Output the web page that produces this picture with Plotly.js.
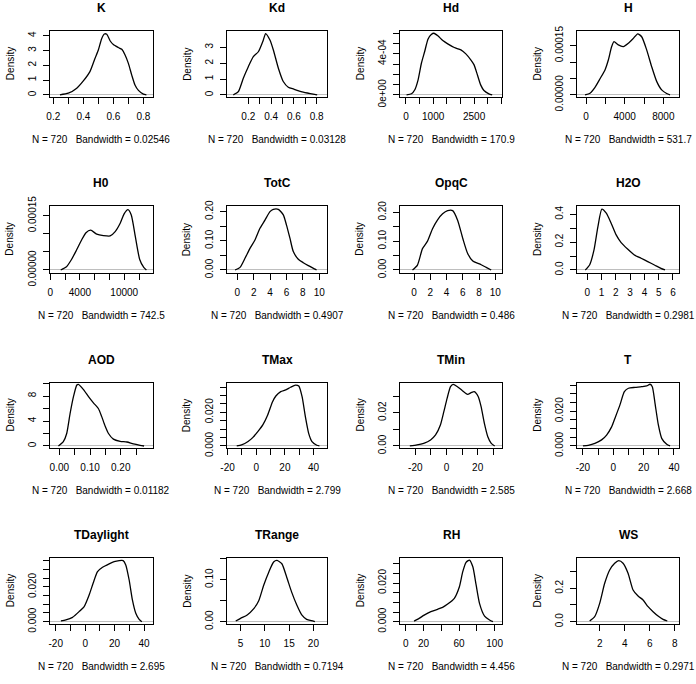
<!DOCTYPE html>
<html><head><meta charset="utf-8">
<script src="https://cdn.plot.ly/plotly-3.0.1.min.js"></script>
<style>html,body{margin:0;padding:0;background:#fff}#chart{width:696px;height:684px}</style>
</head><body><div id="chart"></div>
<script>
// ---------------- DATA ----------------
const panelNames = ["K","Kd","Hd","H","H0","TotC","OpqC","H2O","AOD","TMax","TMin","T","TDaylight","TRange","RH","WS"];
const sampleSize = 720;
const bandwidths = ["0.02546","0.03128","170.9","531.7","742.5","0.4907","0.486","0.2981","0.01182","2.799","2.585","2.668","2.695","0.7194","4.456","0.2971"];

const K_x = [0.244,0.3,0.356,0.4,0.444,0.478,0.5,0.522,0.54,0.556,0.578,0.6,0.633,0.656,0.678,0.7,0.722,0.744,0.767,0.8,0.82];
const K_y = [0,0.11,0.45,0.94,1.57,2.47,3.03,3.8,4.12,4.1,3.66,3.4,3.2,3.08,2.7,2.13,1.35,0.67,0.3,0.05,0];
const Kd_x = [0.068,0.112,0.156,0.2,0.244,0.288,0.332,0.352,0.39,0.42,0.464,0.507,0.551,0.6,0.673,0.746,0.805];
const Kd_y = [0,0.2,1.05,1.78,2.41,2.72,3.46,3.87,3.46,2.83,1.68,0.84,0.48,0.36,0.19,0.08,0];
const Hd_x = [24,205,326,447,568,688,809,930,1027,1171,1353,1534,1775,2017,2198,2379,2500,2621,2741,2862,3043,3164];
const Hd_y = [0,0.1e-4,0.49e-4,1.46e-4,3.08e-4,4.22e-4,5.42e-4,5.88e-4,6.0e-4,5.75e-4,5.29e-4,4.97e-4,4.61e-4,4.38e-4,3.99e-4,3.41e-4,2.92e-4,1.95e-4,0.97e-4,0.42e-4,0.1e-4,0];
const H_x = [-100,414,931,1448,1966,2310,2655,2897,3345,3862,4379,4897,5345,5759,6276,6793,7310,7828,8345,8690];
const H_y = [0,0.5e-5,2.3e-5,4.9e-5,7.6e-5,10.6e-5,14.7e-5,16.2e-5,15.2e-5,14.7e-5,15.7e-5,17.2e-5,18.6e-5,17.7e-5,13.7e-5,8.6e-5,4.1e-5,1.5e-5,0.4e-5,0];
const H0_x = [1400,2180,2860,3540,4230,4820,5450,6270,7180,8090,8770,9450,10000,10500,10950,11500,12090,12640,13000];
const H0_y = [0,0.9e-5,2.9e-5,5.5e-5,8.3e-5,10.3e-5,11.0e-5,9.9e-5,9.5e-5,9.4e-5,10.6e-5,12.9e-5,15.6e-5,16.7e-5,15.2e-5,9.2e-5,2.9e-5,0.7e-5,0];
const TotC_x = [-0.28,0.33,0.93,1.54,2.15,2.76,3.37,3.98,4.39,5.0,5.61,6.0,6.42,6.83,7.44,8.05,8.66,9.47,9.67];
const TotC_y = [0,0.009,0.04,0.074,0.103,0.143,0.171,0.2,0.208,0.208,0.189,0.154,0.109,0.063,0.037,0.025,0.015,0.003,0];
const OpqC_x = [-0.2,0.41,1.03,1.65,2.27,2.89,3.51,4.13,4.75,5.37,6.0,6.6,7.23,8.05,8.88,9.5];
const OpqC_y = [0,0.017,0.074,0.1,0.143,0.174,0.195,0.206,0.206,0.172,0.109,0.057,0.031,0.021,0.009,0];
const H2O_x = [-0.14,0.16,0.47,0.74,1.02,1.33,1.67,2.02,2.37,2.84,3.3,3.77,4.23,4.7,5.16,5.44];
const H2O_y = [0,0.036,0.144,0.31,0.437,0.408,0.336,0.252,0.197,0.149,0.108,0.084,0.06,0.036,0.012,0];
const AOD_x = [-0.003,0.013,0.024,0.035,0.046,0.057,0.062,0.078,0.095,0.111,0.127,0.138,0.149,0.16,0.176,0.198,0.22,0.241,0.263,0.276];
const AOD_y = [0,0.7,2.0,5.2,7.9,9.76,9.87,9.07,7.9,6.9,6.0,4.7,3.2,2.0,1.1,0.75,0.64,0.32,0.1,0];
const TMax_x = [-13.6,-10.2,-5.7,-2.3,1.1,4.6,8.0,11.4,13.7,17.1,20.6,24.0,27.4,29.7,32.0,34.3,36.6,38.9,42.3,44.1];
const TMax_y = [0,0.0006,0.0026,0.0051,0.0085,0.0125,0.0184,0.0263,0.0297,0.0323,0.0333,0.0349,0.0362,0.0356,0.0293,0.0174,0.0075,0.0026,0.0004,0];
const TMin_x = [-23.5,-18.9,-14.6,-10.2,-7.0,-3.9,-1.7,0.4,2.6,4.3,7.0,10.2,13.5,16.1,17.8,20.4,22.2,24.3,26.5,28.7,30.9];
const TMin_y = [0,0.0006,0.0016,0.0036,0.0066,0.0126,0.0206,0.0286,0.0356,0.037,0.0356,0.0332,0.031,0.0322,0.0326,0.0296,0.0236,0.0136,0.0056,0.0016,0];
const T_x = [-20,-16.5,-12.1,-7.7,-4.4,-1.1,1.1,4.4,7.3,10,14.4,18.7,22.0,24.2,25.7,27.5,29.7,31.9,35.2,37.4];
const T_y = [0,0.0004,0.0015,0.0035,0.0063,0.011,0.016,0.0237,0.0313,0.0333,0.0338,0.0342,0.0346,0.0356,0.0342,0.0246,0.0121,0.0044,0.001,0];
const TDaylight_x = [-16.5,-13.1,-8.6,-4.1,-0.7,2.7,5.4,8.4,11.8,16.3,19.7,23.1,25.8,27.6,29.9,32.1,34.4,36.7,38.5];
const TDaylight_y = [0.0004,0.001,0.0025,0.0058,0.0087,0.0154,0.0221,0.0288,0.0313,0.0333,0.0346,0.0352,0.0352,0.0327,0.024,0.0125,0.0048,0.0013,0];
const TRange_x = [4.0,5.0,6.36,7.72,8.74,9.76,10.8,11.8,12.5,13.5,14.5,15.5,16.6,17.6,18.6,20.0,20.3];
const TRange_y = [0.0016,0.008,0.016,0.031,0.05,0.087,0.118,0.142,0.146,0.138,0.106,0.071,0.039,0.016,0.0055,0.0016,0];
const RH_x = [9.4,15.1,20.8,28.3,35.8,41.5,47.2,54.7,60.4,64.2,67.9,71.7,75.5,79.2,83,88.7,94.3,98.1];
const RH_y = [0.0003,0.0017,0.0034,0.0052,0.0064,0.0074,0.0091,0.0121,0.0181,0.0259,0.0307,0.0319,0.0284,0.019,0.0095,0.0029,0.0009,0];
const WS_x = [1.2,1.6,2.0,2.4,2.8,3.2,3.52,3.87,4.27,4.67,5.07,5.47,5.87,6.27,6.67,7.07,7.41];
const WS_y = [0.004,0.03,0.11,0.23,0.31,0.35,0.366,0.35,0.29,0.19,0.154,0.13,0.09,0.06,0.034,0.014,0.004];

const seriesX = [K_x,Kd_x,Hd_x,H_x,H0_x,TotC_x,OpqC_x,H2O_x,AOD_x,TMax_x,TMin_x,T_x,TDaylight_x,TRange_x,RH_x,WS_x];
const seriesY = [K_y,Kd_y,Hd_y,H_y,H0_y,TotC_y,OpqC_y,H2O_y,AOD_y,TMax_y,TMin_y,T_y,TDaylight_y,TRange_y,RH_y,WS_y];

// tick values and tick labels ("" = tick without label)
const xTickVals = [
  [0.2,0.3,0.4,0.5,0.6,0.7,0.8],[0.2,0.3,0.4,0.5,0.6,0.7,0.8],
  [0,500,1000,1500,2000,2500,3000,3500],[0,2000,4000,6000,8000],
  [0,2000,4000,6000,8000,10000,12000],[0,2,4,6,8,10],[0,2,4,6,8,10],[0,1,2,3,4,5,6],
  [0,0.05,0.1,0.15,0.2,0.25],[-20,-10,0,10,20,30,40],[-20,-10,0,10,20,30],[-20,-10,0,10,20,30,40],
  [-20,-10,0,10,20,30,40],[5,10,15,20],[0,20,40,60,80,100],[2,4,6,8]];
const xTickText = [
  ["0.2","","0.4","","0.6","","0.8"],["0.2","","0.4","","0.6","","0.8"],
  ["0","","1000","","","2500","",""],["0","","4000","","8000"],
  ["0","","4000","","","10000",""],["0","2","4","6","8","10"],["0","2","4","6","8","10"],["0","1","2","3","4","5","6"],
  ["0.00","","0.10","","0.20",""],["-20","","0","","20","","40"],["-20","","0","","20",""],["-20","","0","","20","","40"],
  ["-20","","0","","20","","40"],["5","10","15","20"],["0","20","","60","","100"],["2","4","6","8"]];
const yTickVals = [
  [0,1,2,3,4],[0,1,2,3],[0,1e-4,2e-4,3e-4,4e-4,5e-4,6e-4],[0,5e-5,1e-4,1.5e-4],
  [0,5e-5,1e-4,1.5e-4],[0,0.05,0.1,0.15,0.2],[0,0.05,0.1,0.15,0.2],[0,0.1,0.2,0.3,0.4],
  [0,2,4,6,8,10],[0,0.005,0.01,0.015,0.02,0.025,0.03,0.035],[0,0.01,0.02,0.03],[0,0.005,0.01,0.015,0.02,0.025,0.03,0.035],
  [0,0.005,0.01,0.015,0.02,0.025,0.03,0.035],[0,0.05,0.1,0.15],[0,0.005,0.01,0.015,0.02,0.025,0.03],[0,0.1,0.2,0.3]];
const yTickText = [
  ["0","1","2","3","4"],["0","1","2","3"],["0e+00","","","","4e-04","",""],["0.00000","","","0.00015"],
  ["0.00000","","","0.00015"],["0.00","","0.10","","0.20"],["0.00","","0.10","","0.20"],["0.0","","0.2","","0.4"],
  ["0","","4","","8",""],["0.000","","","","0.020","","",""],["0.00","","0.02",""],["0.000","","","","0.020","","",""],
  ["0.000","","","","0.020","","",""],["0.00","","0.10",""],["0.000","","","","0.020","",""],["0.0","","0.2",""]];

// ---------------- LAYOUT CONFIG ----------------
const W = 696, H = 684;
const colBox = [[50,152.7],[226.7,327.3],[400,502],[577.3,678.7]];
const rowBox = [[31,97.3],[206,273.3],[382.7,448.3],[558.3,624]];
const xRanges = [[0.178,0.862],[0.01,0.894],[-217,3524],[-900,9590],[-50,13850],[-1.3,10.98],[-1.74,10.83],[-0.70,6.4],
  [-0.0304,0.304],[-20.6,49.6],[-29.8,35.6],[-23.7,43.1],[-23.9,45.9],[2.14,22.86],[-6.4,108.3],[0.21,8.32]];
const yRanges = [[-0.166,4.32],[-0.155,4.03],[-0.24e-4,6.22e-4],[-0.75e-5,19.45e-5],[-0.92e-5,17.68e-5],[-0.0114,0.2194],[-0.0116,0.222],[-0.024,0.46],
  [-0.37,10.13],[-0.0014,0.0376],[-0.0014,0.038],[-0.00135,0.0365],[-0.00135,0.0365],[-0.0055,0.151],[-0.0012,0.0328],[-0.014,0.38]];

const FONT = "Liberation Sans, Arial, Helvetica, sans-serif";
const traces = [];
const layout = {
  width: W, height: H, margin: {l:0,r:0,t:0,b:0},
  paper_bgcolor: "#ffffff", plot_bgcolor: "#ffffff",
  showlegend: false, font: {family: FONT, size: 10, color: "#000"},
  annotations: []
};

for (let i = 0; i < 16; i++) {
  const r = Math.floor(i / 4), c = i % 4;
  const n = i + 1;
  const xa = "x" + (n === 1 ? "" : n), ya = "y" + (n === 1 ? "" : n);
  const [l, rr] = colBox[c], [t, b] = rowBox[r];
  traces.push({
    x: seriesX[i], y: seriesY[i], xaxis: xa, yaxis: ya, type: "scatter", mode: "lines",
    line: {color: "#000", width: 1.3, shape: "spline", smoothing: 0.6}, hoverinfo: "skip"
  });
  const common = {
    showline: true, mirror: true, linecolor: "#000", linewidth: 1,
    ticks: "outside", ticklen: 6, tickwidth: 1, tickcolor: "#000",
    showgrid: false, tickmode: "array", fixedrange: true,
    tickfont: {family: FONT, size: 10, color: "#000"}
  };
  layout["xaxis" + (n === 1 ? "" : n)] = Object.assign({}, common, {
    domain: [l / W, rr / W], anchor: ya, range: xRanges[i],
    tickvals: xTickVals[i], ticktext: xTickText[i], zeroline: false, ticklabelstandoff: 4
  });
  layout["yaxis" + (n === 1 ? "" : n)] = Object.assign({}, common, {
    domain: [1 - b / H, 1 - t / H], anchor: xa, range: yRanges[i],
    tickvals: yTickVals[i], ticktext: yTickText[i], tickangle: -90,
    zeroline: true, zerolinecolor: "#BEBEBE", zerolinewidth: 1, ticklabelstandoff: 3
  });
  const cx = ((l + rr) / 2) / W;
  layout.annotations.push({
    text: panelNames[i], xref: "paper", yref: "paper", x: cx, y: 1 - (t - 23) / H,
    xanchor: "center", yanchor: "middle", showarrow: false,
    font: {family: FONT, size: 12, color: "#000", weight: "bold"}
  });
  layout.annotations.push({
    text: "N = " + sampleSize + "   Bandwidth = " + bandwidths[i], xref: "paper", yref: "paper",
    x: cx, y: 1 - (b + 42.5) / H, xanchor: "center", yanchor: "middle", showarrow: false,
    font: {family: FONT, size: 10, color: "#000"}
  });
  layout.annotations.push({
    text: "Density", xref: "paper", yref: "paper", x: (l - 40) / W, y: 1 - ((t + b) / 2) / H,
    xanchor: "center", yanchor: "middle", showarrow: false, textangle: -90,
    font: {family: FONT, size: 10, color: "#000"}
  });
}

Plotly.newPlot("chart", traces, layout, {displayModeBar: false, staticPlot: true});
</script></body></html>
